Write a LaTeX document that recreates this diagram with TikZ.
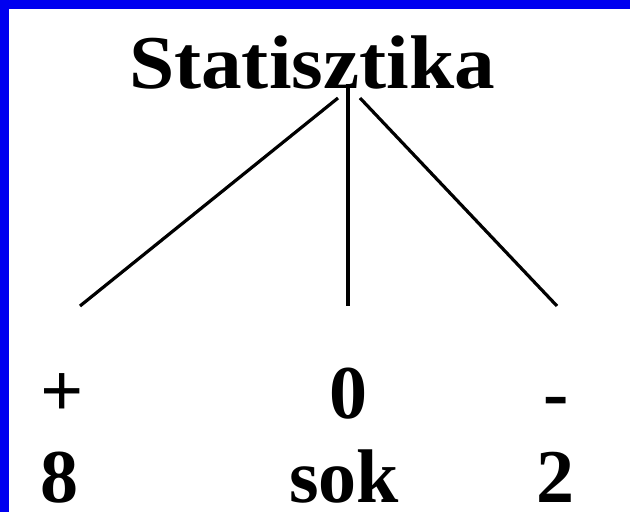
\documentclass[tikz,border=0pt]{standalone}
\usepackage{fontspec}
\setmainfont{Liberation Serif}
\definecolor{frameblue}{RGB}{0,0,240}
\begin{document}
\begin{tikzpicture}[x=1pt,y=-1pt,
  lbl/.style={anchor=base,inner sep=0pt,font=\fontsize{76}{76}\selectfont\bfseries},
  branch/.style={line width=3.2pt,black}]
\useasboundingbox (0,0) rectangle (630,512);
\fill[white] (0,0) rectangle (630,512);
\fill[frameblue] (0,0) rectangle (630,9);
\fill[frameblue] (0,0) rectangle (9,512);
\node[lbl,xscale=1.07] (title) at (312,88) {Statisztika};
\coordinate (tl) at (338,98);
\coordinate (tm) at (348,84);
\coordinate (tr) at (360,98);
\coordinate (el) at (80,306);
\coordinate (em) at (348,306);
\coordinate (er) at (557,306);
\draw[branch] (tl) -- (el);
\draw[branch] (tm) -- (em);
\draw[branch] (tr) -- (er);
\node[lbl] (plus) at (62,416) {+};
\node[lbl] (zero) at (348,418) {0};
\node[lbl] (minus) at (556,418) {-};
\node[lbl] (eight) at (60,502) {8};
\node[lbl] (sok) at (344,502) {sok};
\node[lbl] (two) at (555,502) {2};
\end{tikzpicture}
\end{document}
